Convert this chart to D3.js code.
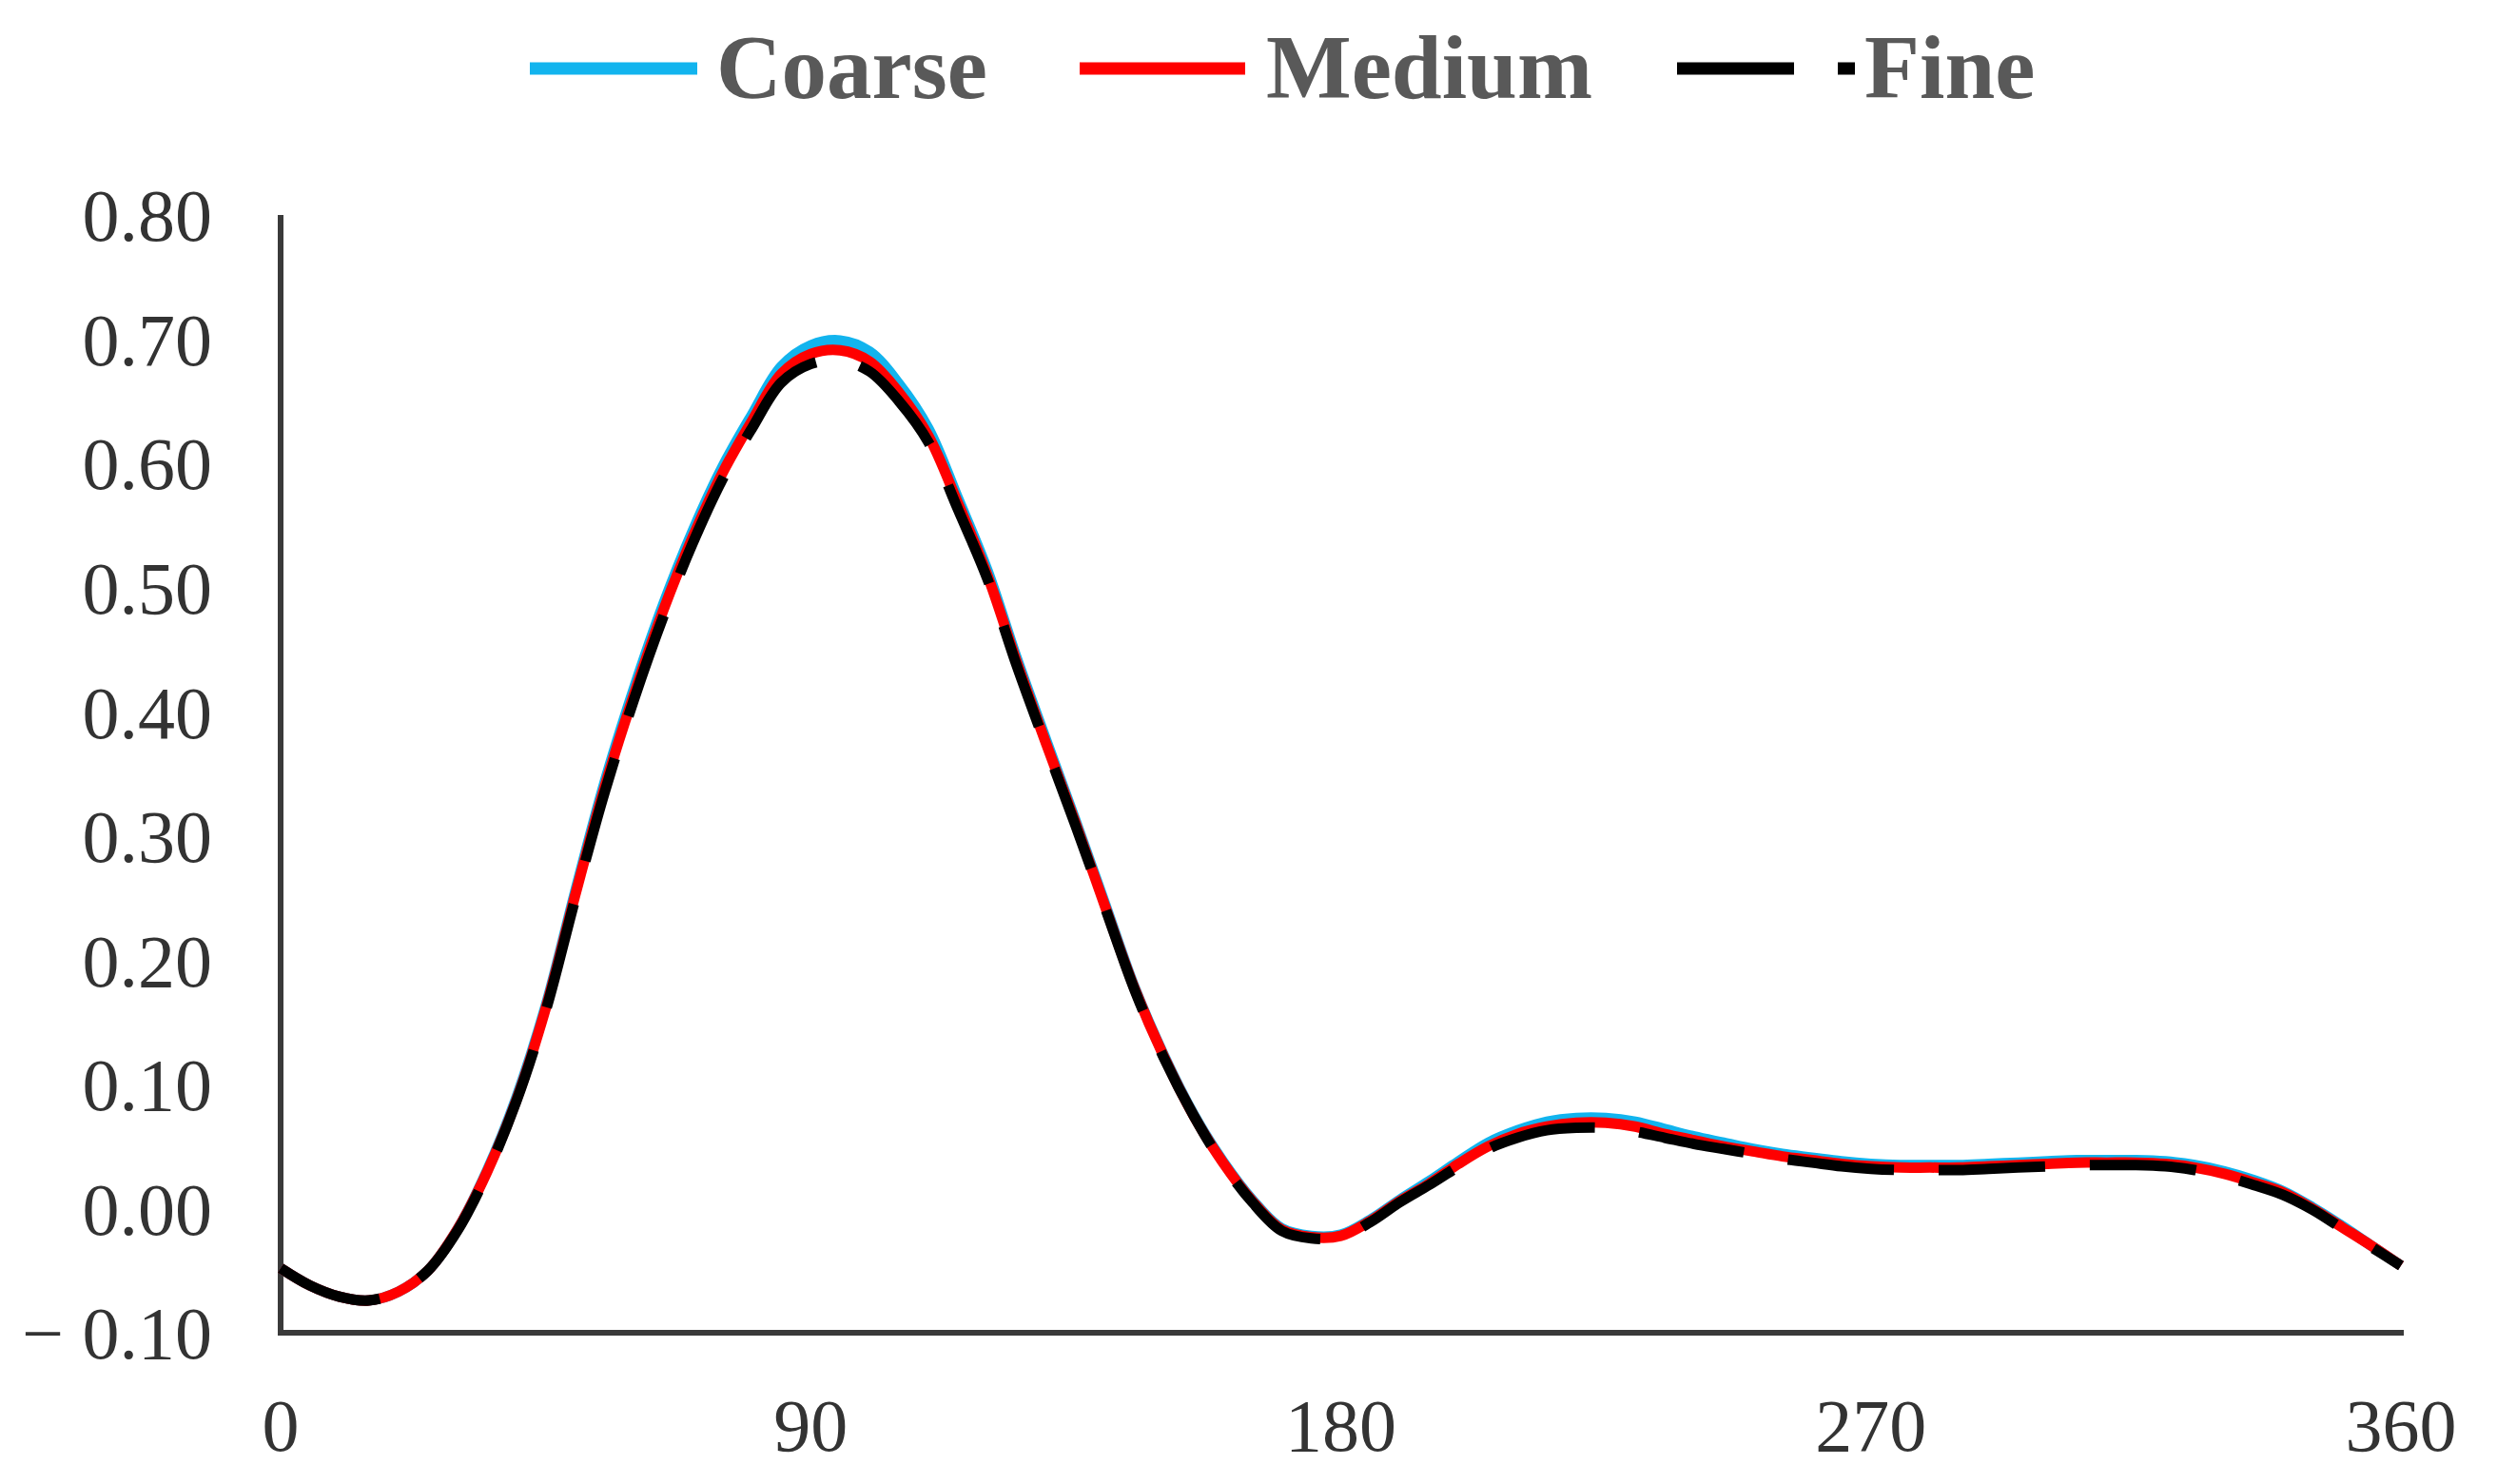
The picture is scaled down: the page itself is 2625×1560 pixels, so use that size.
<!DOCTYPE html>
<meta charset="utf-8">
<style>

body { margin: 0; background: #fff; }

.tick-label {
  font-family: "Liberation Serif", "Times New Roman", serif;
  font-size: 78px;
  fill: #333;
}

.legend text {
  font-family: "Liberation Serif", "Times New Roman", serif;
  font-size: 95px;
  font-weight: bold;
  fill: #595959;
}

.axis-line {
  stroke: #3a3a3a;
  stroke-width: 6px;
}

</style>
<svg width="2625" height="1560"></svg>
<script src="https://d3js.org/d3.v7.min.js"></script>
<script>

// angle (deg) every 5
var angles = [0,5,10,15,20,25,30,35,40,45,50,55,60,65,70,75,80,85,90,95,100,105,110,115,120,125,130,135,140,145,150,155,160,165,170,175,180,
  185,190,195,200,205,210,215,220,225,230,235,240,245,250,255,260,265,270,275,280,285,290,295,300,305,310,315,320,325,330,335,340,345,350,355,360];

var coarse = [-0.048,-0.062,-0.071,-0.074,-0.067,-0.050,-0.017,0.030,0.089,0.163,0.255,0.343,0.419,0.487,0.546,0.597,0.639,0.678,0.695,0.699,0.690,0.664,0.628,0.572,0.514,0.443,0.377,0.312,0.245,0.178,0.123,0.076,0.038,0.007,-0.016,-0.022,-0.021,
  -0.009,0.007,0.022,0.038,0.053,0.063,0.070,0.073,0.073,0.070,0.064,0.058,0.053,0.048,0.044,0.041,0.038,0.036,0.035,0.035,0.035,0.036,0.037,0.038,0.039,0.039,0.039,0.038,0.035,0.030,0.023,0.014,0.001,-0.014,-0.030,-0.046];

var medium = [-0.048,-0.062,-0.071,-0.074,-0.067,-0.050,-0.017,0.029,0.087,0.161,0.252,0.339,0.414,0.482,0.541,0.592,0.634,0.672,0.688,0.691,0.682,0.657,0.622,0.568,0.510,0.440,0.374,0.310,0.243,0.177,0.122,0.075,0.037,0.006,-0.017,-0.023,-0.022,
  -0.010,0.006,0.020,0.036,0.050,0.060,0.066,0.069,0.069,0.066,0.060,0.055,0.050,0.046,0.042,0.039,0.036,0.034,0.033,0.033,0.033,0.034,0.035,0.036,0.037,0.037,0.037,0.036,0.033,0.028,0.021,0.013,0.000,-0.015,-0.030,-0.046];

var fine = [-0.048,-0.062,-0.071,-0.074,-0.067,-0.050,-0.018,0.028,0.086,0.159,0.249,0.335,0.410,0.477,0.536,0.587,0.628,0.665,0.680,0.683,0.674,0.650,0.617,0.563,0.507,0.437,0.372,0.308,0.242,0.176,0.121,0.075,0.036,0.005,-0.018,-0.024,-0.023,
  -0.011,0.005,0.019,0.034,0.048,0.057,0.063,0.065,0.065,0.062,0.057,0.052,0.048,0.044,0.040,0.037,0.034,0.032,0.031,0.031,0.031,0.032,0.033,0.034,0.035,0.035,0.035,0.034,0.031,0.026,0.019,0.011,-0.001,-0.016,-0.031,-0.046];

var xTicks = [0, 90, 180, 270, 360];
var yTicks = [-0.1, 0, 0.1, 0.2, 0.3, 0.4, 0.5, 0.6, 0.7, 0.8];

var seriesNames = ["Coarse", "Medium", "Fine"];
var seriesColors = ["#12b4ee", "#ff0000", "#000000"];

var svg = d3.select("svg");

var x = d3.scaleLinear().domain([0, 360]).range([295, 2524]);
var y = d3.scaleLinear().domain([-0.1, 0.8]).range([1401, 226]);

var fmt = d3.format(".2f");
function yLabel(d) { return d < 0 ? "\u2212 " + fmt(-d) : fmt(d); }

// axes (no tick marks, just the two lines)
svg.append("line").attr("class", "axis-line")
    .attr("x1", x(0)).attr("x2", x(0))
    .attr("y1", y(0.8)).attr("y2", y(-0.1) + 3);
svg.append("line").attr("class", "axis-line")
    .attr("x1", x(0) - 3).attr("x2", x(360) + 3)
    .attr("y1", y(-0.1)).attr("y2", y(-0.1));

svg.append("g").selectAll("text")
  .data(yTicks)
  .enter().append("text")
    .attr("class", "tick-label")
    .attr("x", 223)
    .attr("y", function(d) { return y(d); })
    .attr("dy", "0.35em")
    .attr("text-anchor", "end")
    .text(yLabel);

svg.append("g").selectAll("text")
  .data(xTicks)
  .enter().append("text")
    .attr("class", "tick-label")
    .attr("x", function(d) { return x(d); })
    .attr("y", 1525)
    .attr("text-anchor", "middle")
    .text(function(d) { return d; });

var line = d3.line()
    .x(function(d) { return x(d[0]); })
    .y(function(d) { return y(d[1]); })
    .curve(d3.curveCatmullRom.alpha(0.5));

var allSeries = [coarse, medium, fine];
allSeries.forEach(function(vals, i) {
  svg.append("path")
      .datum(angles.map(function(a, j) { return [a, vals[j]]; }))
      .attr("fill", "none")
      .attr("stroke", seriesColors[i])
      .attr("stroke-width", 11)
      .attr("stroke-dasharray", i == 2 ? "112,47" : null)
      .attr("d", line);
});

// legend
var legendX = [557, 1135, 1763];
var legendTextX = [753, 1331, 1960];
var legendLen = [176, 174, 187];
var legend = svg.append("g").attr("class", "legend");
seriesNames.forEach(function(name, i) {
  legend.append("line")
      .attr("x1", legendX[i]).attr("x2", legendX[i] + legendLen[i])
      .attr("y1", 72).attr("y2", 72)
      .attr("stroke", seriesColors[i])
      .attr("stroke-width", 13)
      .attr("stroke-dasharray", i == 2 ? "123,46" : null);
  legend.append("text")
      .attr("x", legendTextX[i])
      .attr("y", 103)
      .text(name);
});

</script>
